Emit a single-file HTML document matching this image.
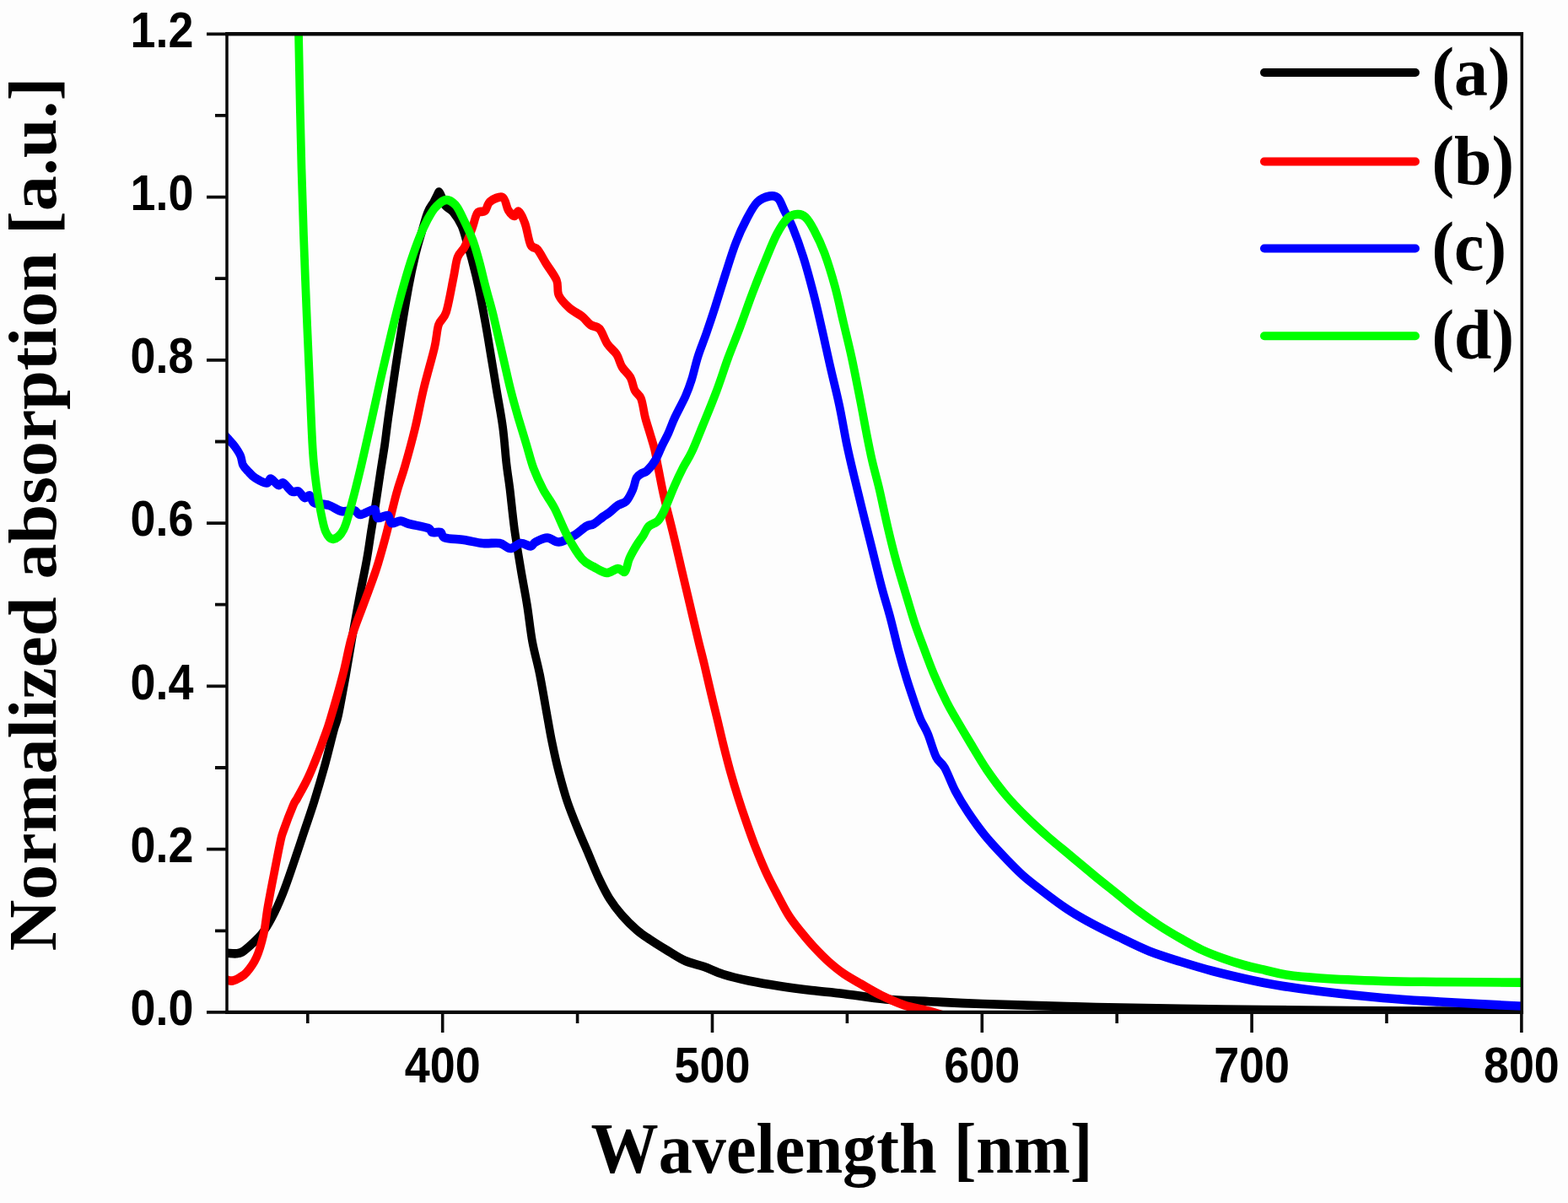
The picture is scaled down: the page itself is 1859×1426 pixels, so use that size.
<!DOCTYPE html>
<html lang="en"><head><meta charset="utf-8"><title>Normalized absorption spectra</title>
<style>html,body{margin:0;padding:0;background:#fdfdfd;}body{width:1859px;height:1426px;overflow:hidden;}svg{display:block;filter:blur(0.75px);}text{font-kerning:none;}.tk{font-family:"Liberation Sans",Arial,Helvetica,sans-serif;font-weight:700;font-size:58.5px;fill:#000;}.lb{font-family:"Liberation Serif","Times New Roman",Times,serif;font-weight:700;font-size:84px;fill:#000;}.lg{font-family:"Liberation Serif","Times New Roman",Times,serif;font-weight:700;font-size:83px;fill:#000;}.cv{fill:none;stroke-linejoin:round;stroke-linecap:butt;}</style></head><body>
<svg width="1859" height="1426" viewBox="0 0 1859 1426" role="img" aria-label="Normalized absorption versus wavelength for samples (a) to (d)">
<defs><clipPath id="pc"><rect x="269" y="40.3" width="1535.3" height="1159.6"/></clipPath></defs>
<rect width="1859" height="1426" fill="#fdfdfd"/>
<g clip-path="url(#pc)"><g transform="scale(0.92 1)">
<path class="cv" d="M284.8 1129.0C286.2 1129.1 290.2 1129.6 293.5 1129.8C296.7 1130.0 301.3 1130.5 304.3 1130.3C307.4 1130.1 308.8 1130.2 312.0 1128.5C315.1 1126.8 319.2 1123.5 323.4 1120.0C327.5 1116.5 332.4 1112.9 337.0 1107.5C341.5 1102.1 346.0 1095.4 350.5 1087.5C355.1 1079.6 359.6 1070.4 364.1 1060.0C368.7 1049.6 373.2 1037.1 377.7 1025.0C382.2 1012.9 386.8 1000.0 391.3 987.5C395.8 975.0 400.4 963.3 404.9 950.0C409.4 936.7 414.2 921.7 418.5 907.5C422.7 893.3 427.5 874.9 430.4 865.0C433.3 855.1 433.3 858.8 435.9 848.0C438.4 837.2 442.5 816.3 445.7 800.0C448.8 783.7 451.9 765.7 454.9 750.0C457.9 734.3 460.6 720.6 463.6 706.0C466.6 691.4 470.4 675.2 472.8 662.5C475.3 649.8 476.4 640.9 478.3 630.0C480.2 619.1 482.2 608.7 484.2 597.0C486.2 585.3 488.3 571.5 490.2 560.0C492.1 548.5 493.9 539.0 495.7 528.0C497.4 517.0 497.6 513.2 500.5 494.0C503.5 474.8 509.2 438.2 513.6 412.5C517.9 386.8 522.9 358.8 526.6 340.0C530.3 321.2 533.1 310.8 535.9 300.0C538.7 289.2 540.9 283.0 543.5 275.0C546.0 267.0 548.6 257.8 551.1 252.0C553.6 246.2 556.6 243.4 558.7 240.0C560.7 236.6 562.2 233.6 563.4 231.5C564.5 229.4 564.9 227.4 565.8 227.5C566.6 227.6 567.2 229.4 568.5 232.0C569.7 234.6 570.6 239.8 573.2 243.0C575.7 246.2 580.1 246.9 583.7 251.0C587.3 255.1 591.8 261.0 594.9 267.5C598.0 274.0 600.1 282.6 602.5 290.0C604.9 297.4 607.0 303.7 609.3 312.0C611.7 320.3 614.0 328.7 616.6 340.0C619.2 351.3 622.3 366.3 625.0 380.0C627.7 393.7 630.2 408.0 632.7 422.0C635.3 436.0 637.8 450.2 640.3 464.2C642.9 478.2 645.9 492.2 647.9 506.2C650.0 520.2 651.0 536.0 652.5 548.3C654.0 560.6 655.3 566.8 657.1 580.0C658.8 593.2 660.7 611.7 663.0 627.5C665.4 643.3 668.5 660.0 671.2 675.0C673.9 690.0 676.9 703.3 679.3 717.5C681.8 731.7 683.2 746.2 685.9 760.0C688.6 773.8 692.3 784.5 695.7 800.0C699.0 815.5 703.3 839.2 706.0 853.0C708.7 866.8 709.6 872.2 712.0 882.5C714.3 892.8 716.9 903.8 720.1 915.0C723.3 926.2 726.9 938.8 731.0 950.0C735.1 961.2 739.9 972.0 744.6 982.5C749.2 993.0 754.2 1003.2 758.7 1013.0C763.2 1022.8 767.3 1032.3 771.7 1041.0C776.2 1049.7 780.3 1057.7 785.3 1065.0C790.3 1072.3 795.7 1078.8 801.6 1085.0C807.5 1091.2 814.3 1097.5 820.7 1102.5C827.0 1107.5 832.9 1110.8 839.7 1115.0C846.5 1119.2 854.2 1123.5 861.4 1127.5C868.7 1131.5 875.5 1135.9 883.2 1139.0C890.9 1142.1 899.5 1143.3 907.6 1146.0C915.8 1148.7 922.6 1152.2 932.1 1155.0C941.6 1157.8 952.4 1160.2 964.7 1162.5C976.9 1164.8 991.8 1167.1 1005.4 1169.0C1019.0 1170.9 1032.6 1172.5 1046.2 1174.0C1059.8 1175.5 1071.1 1176.2 1087.0 1178.0C1102.8 1179.8 1123.2 1183.0 1141.3 1184.5C1159.4 1186.0 1174.8 1186.1 1195.7 1187.0C1216.5 1187.9 1230.1 1188.8 1266.3 1190.0C1302.5 1191.2 1361.4 1192.9 1413.0 1194.0C1464.7 1195.1 1521.7 1195.8 1576.1 1196.5C1630.4 1197.2 1675.0 1197.6 1739.1 1198.0C1803.3 1198.4 1923.9 1198.8 1960.9 1199.0" stroke="#000000" stroke-width="10.6"/>
<path class="cv" d="M284.8 1158.5C286.1 1159.0 289.9 1160.8 292.4 1161.5C294.9 1162.2 297.3 1162.9 300.0 1162.5C302.7 1162.1 305.7 1160.7 308.7 1159.0C311.7 1157.3 314.3 1156.5 317.9 1152.5C321.6 1148.5 326.8 1142.5 330.4 1135.0C334.1 1127.5 337.2 1117.5 339.7 1107.5C342.1 1097.5 342.8 1087.1 345.1 1075.0C347.4 1062.9 350.5 1047.9 353.3 1035.0C356.0 1022.1 359.4 1005.8 361.4 997.5C363.4 989.2 362.5 992.1 365.2 985.0C367.9 977.9 374.7 961.5 377.7 955.0C380.7 948.5 380.0 951.4 383.2 946.0C386.3 940.6 392.2 931.4 396.7 922.5C401.3 913.6 406.9 900.4 410.3 892.5C413.8 884.6 414.9 881.6 417.4 875.0C419.9 868.4 421.5 865.5 425.5 853.0C429.6 840.5 437.2 816.3 441.8 800.0C446.5 783.7 448.7 769.2 453.3 755.0C457.8 740.8 463.8 728.3 469.0 715.0C474.3 701.7 480.1 688.3 484.8 675.0C489.5 661.7 492.9 650.0 497.3 635.0C501.6 620.0 506.8 598.7 510.9 585.0C514.9 571.3 517.8 565.8 521.7 553.0C525.7 540.2 530.7 523.5 534.8 508.0C538.9 492.5 542.0 475.9 546.2 460.0C550.4 444.1 556.6 425.0 559.8 412.5C563.0 400.0 562.7 392.1 565.2 385.0C567.8 377.9 571.8 379.2 575.0 370.0C578.2 360.8 581.8 340.8 584.2 330.0C586.7 319.2 587.2 311.2 589.7 305.0C592.1 298.8 595.7 298.3 598.9 292.5C602.1 286.7 606.0 276.7 608.7 270.0C611.4 263.3 612.5 255.8 615.2 252.5C617.9 249.2 622.3 252.2 625.0 250.0C627.7 247.8 627.7 241.7 631.5 239.0C635.3 236.3 643.9 232.3 647.8 234.0C651.7 235.7 652.4 245.3 654.9 249.0C657.4 252.7 660.8 255.7 663.0 256.0C665.3 256.3 666.2 249.5 668.5 251.0C670.7 252.5 674.1 258.5 676.6 265.0C679.2 271.5 681.0 284.8 683.7 290.0C686.4 295.2 689.6 292.2 692.9 296.0C696.3 299.8 699.7 306.4 703.8 312.5C707.9 318.6 714.7 326.2 717.4 332.5C720.1 338.8 717.4 344.6 720.1 350.0C722.8 355.4 728.7 360.8 733.7 365.0C738.7 369.2 745.5 371.7 750.0 375.0C754.5 378.3 757.1 382.5 760.9 385.0C764.7 387.5 769.2 386.2 772.8 390.0C776.4 393.8 779.0 402.5 782.6 407.5C786.2 412.5 791.4 415.4 794.6 420.0C797.7 424.6 798.6 430.4 801.6 435.0C804.6 439.6 809.8 442.9 812.5 447.5C815.2 452.1 815.7 458.3 817.9 462.5C820.2 466.7 823.8 467.1 826.1 472.5C828.4 477.9 829.5 487.9 831.5 495.0C833.5 502.1 836.1 508.8 838.0 515.0C840.0 521.2 841.8 525.8 843.5 532.5C845.2 539.2 846.3 545.9 848.4 555.5C850.5 565.1 852.9 577.6 856.0 590.0C859.1 602.4 863.2 616.2 866.8 630.0C870.5 643.8 874.1 658.3 877.7 672.5C881.3 686.7 885.0 700.8 888.6 715.0C892.2 729.2 896.3 745.4 899.5 757.5C902.6 769.6 904.9 777.1 907.6 787.5C910.3 797.9 913.0 809.1 915.8 820.0C918.6 830.9 921.7 842.6 924.5 853.0C927.2 863.4 929.3 872.2 932.1 882.5C934.9 892.8 938.1 904.6 941.3 915.0C944.5 925.4 947.6 935.0 951.1 945.0C954.5 955.0 958.3 965.4 962.0 975.0C965.6 984.6 968.8 992.9 972.8 1002.5C976.9 1012.1 981.9 1023.3 986.4 1032.5C990.9 1041.7 995.0 1048.8 1000.0 1057.5C1005.0 1066.2 1010.9 1077.1 1016.3 1085.0C1021.7 1092.9 1027.2 1098.8 1032.6 1105.0C1038.0 1111.2 1043.0 1116.7 1048.9 1122.5C1054.8 1128.3 1061.6 1134.8 1067.9 1140.0C1074.3 1145.2 1080.2 1149.7 1087.0 1154.0C1093.8 1158.3 1100.5 1161.7 1108.7 1166.0C1116.8 1170.3 1126.4 1175.8 1135.9 1180.0C1145.3 1184.2 1156.2 1188.7 1165.2 1191.5C1174.3 1194.3 1183.3 1195.4 1190.2 1197.0C1197.1 1198.6 1201.3 1199.6 1206.5 1201.0C1211.8 1202.4 1217.0 1204.0 1221.7 1205.5C1226.4 1207.0 1232.6 1209.2 1234.8 1210.0" stroke="#ff0000" stroke-width="10.6"/>
<path class="cv" d="M285.9 512.0C287.1 513.2 290.5 516.7 293.3 519.5C296.0 522.3 299.6 525.6 302.4 529.0C305.1 532.4 308.0 536.3 309.8 540.0C311.6 543.7 311.4 547.9 313.0 551.0C314.7 554.1 316.9 555.9 319.6 558.5C322.2 561.1 324.8 564.2 328.8 566.5C332.8 568.8 340.1 572.3 343.5 572.5C346.8 572.7 346.4 567.1 348.9 567.5C351.4 567.9 356.0 574.2 358.7 575.0C361.4 575.8 362.3 571.2 365.2 572.5C368.1 573.8 372.8 580.8 376.1 582.5C379.3 584.2 382.1 581.2 384.8 582.5C387.5 583.8 389.9 589.2 392.4 590.0C394.8 590.8 397.4 586.5 399.5 587.5C401.5 588.5 400.8 594.1 404.9 596.0C409.0 597.9 418.0 597.3 423.9 599.0C429.8 600.7 434.8 605.0 440.2 606.0C445.7 607.0 452.4 604.3 456.5 605.0C460.6 605.7 460.3 610.2 464.7 610.0C469.0 609.8 479.0 603.3 482.6 604.0C486.2 604.7 483.5 612.8 486.4 614.0C489.3 615.2 497.0 610.0 500.0 611.0C503.0 612.0 501.6 618.9 504.3 620.0C507.1 621.1 512.5 617.3 516.3 617.5C520.1 617.7 521.3 619.6 527.2 621.0C533.1 622.4 546.6 624.3 551.6 626.0C556.6 627.7 554.3 630.2 557.1 631.0C559.8 631.8 565.2 629.9 567.9 631.0C570.7 632.1 568.4 636.0 573.4 637.5C578.4 639.0 589.7 638.9 597.8 640.0C606.0 641.1 614.6 643.3 622.3 644.0C630.0 644.7 638.1 643.0 644.0 644.0C649.9 645.0 653.1 650.0 657.6 650.0C662.1 650.0 666.8 644.4 671.2 644.0C675.5 643.6 680.5 647.8 683.7 647.5C686.9 647.2 686.6 644.2 690.2 642.5C693.8 640.8 700.5 637.5 705.4 637.5C710.4 637.5 714.5 642.9 720.1 642.5C725.7 642.1 733.2 638.1 739.1 635.0C745.0 631.9 751.1 626.3 755.4 624.0C759.8 621.7 761.6 622.9 765.2 621.0C768.8 619.1 773.8 614.8 777.2 612.5C780.5 610.2 782.2 609.8 785.3 607.5C788.5 605.2 792.6 601.2 796.2 599.0C799.8 596.8 803.8 597.2 807.1 594.0C810.3 590.8 813.5 584.6 815.7 580.0C817.8 575.4 818.3 569.7 820.2 566.5C822.1 563.3 824.9 562.4 827.2 561.0C829.5 559.6 831.0 560.6 833.9 558.0C836.8 555.4 841.3 550.6 844.6 545.5C847.9 540.4 850.9 532.7 853.7 527.3C856.5 521.9 858.8 518.6 861.4 513.2C864.1 507.8 865.9 502.2 869.6 495.0C873.2 487.8 879.5 477.5 883.2 470.0C886.8 462.5 888.6 457.9 891.3 450.0C894.0 442.1 896.3 431.7 899.5 422.5C902.6 413.3 906.7 404.6 910.3 395.0C913.9 385.4 917.1 376.7 921.2 365.0C925.3 353.3 930.3 337.9 934.8 325.0C939.3 312.1 943.8 298.3 948.4 287.5C952.9 276.7 957.4 267.9 962.0 260.0C966.5 252.1 970.6 244.6 975.5 240.0C980.5 235.4 987.3 233.3 991.8 232.5C996.4 231.7 999.5 232.1 1002.7 235.0C1005.9 237.9 1007.7 244.2 1010.9 250.0C1014.0 255.8 1017.7 260.8 1021.7 270.0C1025.8 279.2 1030.8 291.7 1035.3 305.0C1039.9 318.3 1044.8 335.4 1048.9 350.0C1053.0 364.6 1056.2 377.9 1059.8 392.5C1063.4 407.1 1067.0 422.9 1070.7 437.5C1074.3 452.1 1078.1 465.1 1081.5 480.0C1085.0 494.9 1088.2 513.3 1091.3 527.0C1094.4 540.7 1096.6 549.0 1100.0 562.0C1103.4 575.0 1107.7 591.2 1111.4 605.0C1115.1 618.8 1118.2 630.0 1122.3 645.0C1126.4 660.0 1131.8 680.8 1135.9 695.0C1139.9 709.2 1143.1 717.5 1146.7 730.0C1150.4 742.5 1154.0 757.5 1157.6 770.0C1161.2 782.5 1164.9 794.2 1168.5 805.0C1172.1 815.8 1176.4 827.0 1179.3 835.0C1182.3 843.0 1183.7 847.2 1186.4 853.0C1189.1 858.8 1192.3 862.6 1195.7 870.0C1199.0 877.4 1202.9 890.8 1206.5 897.5C1210.1 904.2 1213.3 903.3 1217.4 910.0C1221.5 916.7 1226.0 928.8 1231.0 937.5C1236.0 946.2 1240.9 953.8 1247.3 962.5C1253.6 971.2 1261.3 981.2 1269.0 990.0C1276.7 998.8 1285.3 1007.1 1293.5 1015.0C1301.6 1022.9 1309.3 1030.4 1317.9 1037.5C1326.5 1044.6 1335.6 1050.8 1345.1 1057.5C1354.6 1064.2 1364.6 1071.2 1375.0 1077.5C1385.4 1083.8 1396.7 1089.6 1407.6 1095.0C1418.5 1100.4 1428.0 1104.6 1440.2 1110.0C1452.4 1115.4 1467.4 1122.5 1481.0 1127.5C1494.6 1132.5 1508.2 1136.1 1521.7 1140.0C1535.3 1143.9 1548.9 1147.7 1562.5 1151.0C1576.1 1154.3 1589.7 1157.2 1603.3 1160.0C1616.8 1162.8 1627.7 1165.0 1644.0 1167.5C1660.3 1170.0 1678.0 1172.4 1701.1 1175.0C1724.2 1177.6 1756.9 1180.9 1782.6 1183.0C1808.3 1185.1 1824.6 1185.8 1855.4 1187.5C1886.2 1189.2 1948.7 1192.1 1967.4 1193.0" stroke="#0000ff" stroke-width="10.6"/>
<path class="cv" d="M384.2 20.0C384.3 23.3 384.1 10.0 384.8 40.0C385.5 70.0 387.1 151.2 388.6 200.0C390.0 248.8 391.6 287.3 393.5 333.0C395.4 378.7 398.4 440.0 400.0 474.0C401.6 508.0 402.0 520.2 403.3 537.0C404.5 553.8 406.0 563.7 407.6 575.0C409.2 586.3 411.1 595.8 413.0 605.0C415.0 614.2 416.8 624.3 419.6 630.0C422.3 635.7 425.5 639.4 429.3 639.0C433.2 638.6 438.9 634.8 442.9 627.5C447.0 620.2 450.2 607.1 453.8 595.0C457.4 582.9 460.6 570.8 464.7 555.0C468.8 539.2 473.8 518.2 478.3 500.0C482.7 481.8 487.0 463.5 491.3 446.0C495.7 428.5 500.0 411.4 504.3 395.0C508.7 378.6 513.2 361.7 517.4 347.5C521.6 333.3 525.5 320.9 529.3 310.0C533.2 299.1 536.6 290.3 540.2 282.0C543.8 273.7 547.5 266.2 551.1 260.0C554.7 253.8 558.0 248.8 562.0 245.0C565.9 241.2 570.8 237.3 575.0 237.0C579.2 236.7 583.5 239.7 587.0 243.0C590.4 246.3 592.0 250.2 595.7 257.0C599.3 263.8 605.3 274.8 609.0 284.0C612.8 293.2 615.4 302.7 618.2 312.0C620.9 321.3 623.1 330.7 625.8 340.0C628.4 349.3 632.2 361.3 634.1 368.0C636.1 374.7 635.0 371.0 637.3 380.0C639.6 389.0 644.4 408.0 647.9 422.0C651.5 436.0 655.0 451.3 658.6 464.2C662.1 477.1 665.9 488.7 669.2 499.2C672.6 509.7 675.4 517.9 678.5 527.3C681.5 536.6 684.1 546.5 687.6 555.3C691.2 564.1 695.3 572.1 699.8 580.0C704.3 587.9 709.5 593.3 714.7 602.5C719.9 611.7 725.1 625.0 731.0 635.0C736.9 645.0 744.3 656.3 750.0 662.5C755.7 668.7 760.0 669.2 765.2 672.0C770.5 674.8 776.4 678.7 781.5 679.0C786.7 679.3 792.2 674.2 796.2 674.0C800.2 673.8 803.0 679.4 805.4 677.5C807.9 675.6 808.5 667.5 810.9 662.5C813.2 657.5 816.6 652.1 819.6 647.5C822.6 642.9 826.1 638.9 828.8 635.0C831.5 631.1 832.7 626.9 835.9 624.0C839.0 621.1 844.5 620.7 847.8 617.5C851.2 614.3 852.4 612.1 856.0 605.0C859.6 597.9 865.5 583.5 869.6 575.0C873.6 566.5 876.7 560.7 880.4 554.0C884.1 547.3 887.8 543.0 891.8 535.0C895.9 527.0 899.7 517.7 904.9 506.0C910.1 494.3 917.3 478.5 922.8 465.0C928.4 451.5 932.9 437.9 938.0 425.0C943.2 412.1 948.4 400.8 953.8 387.5C959.2 374.2 965.1 358.3 970.7 345.0C976.2 331.7 981.9 318.8 987.0 307.5C992.0 296.2 996.4 285.7 1001.1 277.5C1005.8 269.3 1010.8 262.4 1015.2 258.5C1019.7 254.6 1023.9 254.2 1027.7 254.0C1031.5 253.8 1034.5 254.4 1038.0 257.5C1041.6 260.6 1044.8 265.4 1048.9 272.5C1053.0 279.6 1058.0 288.8 1062.5 300.0C1067.0 311.2 1072.0 326.2 1076.1 340.0C1080.2 353.8 1083.3 368.3 1087.0 382.5C1090.6 396.7 1094.2 409.6 1097.8 425.0C1101.4 440.4 1105.6 460.5 1108.7 475.0C1111.8 489.5 1113.8 500.2 1116.3 512.0C1118.8 523.8 1121.1 534.7 1123.9 546.0C1126.7 557.3 1129.8 566.8 1133.2 580.0C1136.5 593.2 1140.4 610.8 1144.0 625.0C1147.6 639.2 1150.8 651.2 1154.9 665.0C1159.0 678.8 1164.4 695.0 1168.5 707.5C1172.6 720.0 1175.7 730.0 1179.3 740.0C1183.0 750.0 1186.1 757.5 1190.2 767.5C1194.3 777.5 1198.8 789.2 1203.8 800.0C1208.8 810.8 1215.3 823.7 1220.1 832.5C1224.9 841.3 1227.6 845.1 1232.6 853.0C1237.6 860.9 1243.5 870.1 1250.0 880.0C1256.5 889.9 1264.0 902.1 1271.7 912.5C1279.4 922.9 1287.6 933.1 1296.2 942.5C1304.8 951.9 1314.3 960.8 1323.4 969.0C1332.4 977.2 1341.0 984.3 1350.5 992.0C1360.1 999.7 1370.0 1007.0 1380.4 1015.0C1390.9 1023.0 1403.1 1032.5 1413.0 1040.0C1423.0 1047.5 1431.2 1053.3 1440.2 1060.0C1449.3 1066.7 1458.3 1073.8 1467.4 1080.0C1476.4 1086.2 1485.5 1092.1 1494.6 1097.5C1503.6 1102.9 1512.7 1107.8 1521.7 1112.5C1530.8 1117.2 1539.9 1122.1 1548.9 1126.0C1558.0 1129.9 1567.0 1133.0 1576.1 1136.0C1585.1 1139.0 1594.2 1141.7 1603.3 1144.0C1612.3 1146.3 1621.4 1148.1 1630.4 1150.0C1639.5 1151.9 1645.8 1153.9 1657.6 1155.5C1669.4 1157.1 1680.3 1158.2 1701.1 1159.5C1721.9 1160.8 1756.9 1162.2 1782.6 1163.0C1808.3 1163.8 1824.6 1163.7 1855.4 1164.0C1886.2 1164.3 1948.7 1164.5 1967.4 1164.6" stroke="#00ff00" stroke-width="10.6"/>
</g></g>
<path d="M269 38.1V1202.1M1804.3 38.1V1202.1" stroke="#0a0a0a" stroke-width="3.5" fill="none"/>
<path d="M267.25 40.3H1806.05M267.25 1199.9H1806.05" stroke="#0a0a0a" stroke-width="4.4" fill="none"/>
<path d="M245.0 1199.9h24M255.0 1103.3h14M245.0 1006.6h24M255.0 910.0h14M245.0 813.4h24M255.0 716.7h14M245.0 620.1h24M255.0 523.5h14M245.0 426.8h24M255.0 330.2h14M245.0 233.6h24M255.0 136.9h14M245.0 40.3h24" stroke="#0a0a0a" stroke-width="3.8" fill="none"/>
<path d="M364.8 1199.9v13M524.7 1199.9v24M684.6 1199.9v13M844.5 1199.9v24M1004.4 1199.9v13M1164.3 1199.9v24M1324.2 1199.9v13M1484.1 1199.9v24M1644.0 1199.9v13M1803.9 1199.9v24" stroke="#0a0a0a" stroke-width="3.6" fill="none"/>
<text class="tk" transform="translate(229.5 1215.1) scale(0.921 1)" text-anchor="end">0.0</text>
<text class="tk" transform="translate(229.5 1021.8) scale(0.921 1)" text-anchor="end">0.2</text>
<text class="tk" transform="translate(229.5 828.6) scale(0.921 1)" text-anchor="end">0.4</text>
<text class="tk" transform="translate(229.5 635.3) scale(0.921 1)" text-anchor="end">0.6</text>
<text class="tk" transform="translate(229.5 442.0) scale(0.921 1)" text-anchor="end">0.8</text>
<text class="tk" transform="translate(229.5 248.8) scale(0.921 1)" text-anchor="end">1.0</text>
<text class="tk" transform="translate(229.5 55.5) scale(0.921 1)" text-anchor="end">1.2</text>
<text class="tk" transform="translate(524.7 1282.6) scale(0.921 1)" text-anchor="middle">400</text>
<text class="tk" transform="translate(844.5 1282.6) scale(0.921 1)" text-anchor="middle">500</text>
<text class="tk" transform="translate(1164.3 1282.6) scale(0.921 1)" text-anchor="middle">600</text>
<text class="tk" transform="translate(1484.1 1282.6) scale(0.921 1)" text-anchor="middle">700</text>
<text class="tk" transform="translate(1803.9 1282.6) scale(0.921 1)" text-anchor="middle">800</text>
<text class="lb" transform="translate(998.0 1390.0) scale(0.9555 1)" text-anchor="middle">Wavelength [nm]</text>
<text class="lb" transform="translate(65.5 609.4) scale(0.962 1) rotate(-90)" text-anchor="middle">Normalized absorption [a.u.]</text>
<path d="M1499 86H1678" stroke="#000000" stroke-width="10" stroke-linecap="round" fill="none"/>
<text class="lg" transform="translate(1697.5 112.5) scale(0.962 1)" text-anchor="start">(a)</text>
<path d="M1499 191.5H1678" stroke="#ff0000" stroke-width="10" stroke-linecap="round" fill="none"/>
<text class="lg" transform="translate(1697.5 218.0) scale(0.962 1)" text-anchor="start">(b)</text>
<path d="M1499 294.5H1678" stroke="#0000ff" stroke-width="10" stroke-linecap="round" fill="none"/>
<text class="lg" transform="translate(1697.5 319.5) scale(0.962 1)" text-anchor="start">(c)</text>
<path d="M1499 398.3H1678" stroke="#00ff00" stroke-width="10" stroke-linecap="round" fill="none"/>
<text class="lg" transform="translate(1697.5 423.5) scale(0.962 1)" text-anchor="start">(d)</text>
</svg></body></html>
